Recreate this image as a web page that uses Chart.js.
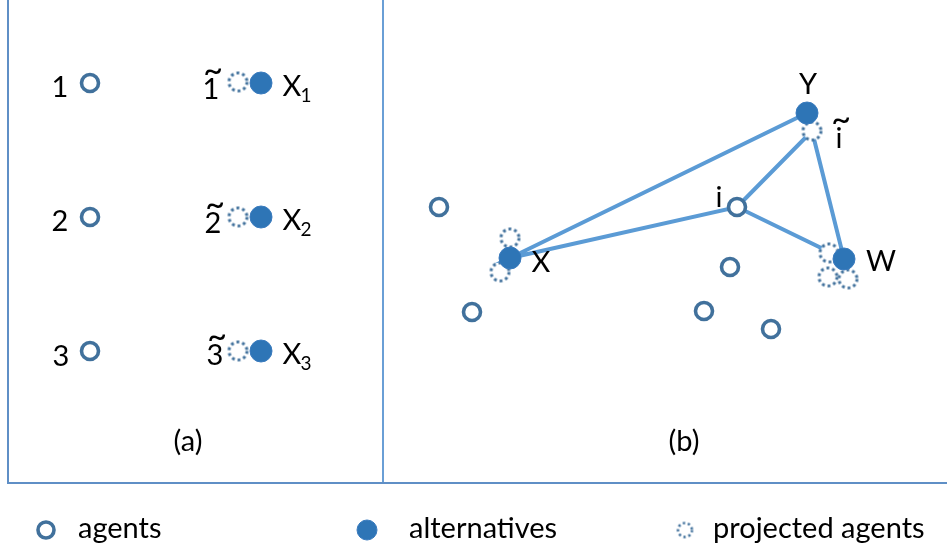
<!DOCTYPE html>
<html>
<head>
<meta charset="utf-8">
<script src="https://cdn.jsdelivr.net/npm/chart.js"></script>
<style>
  html, body { margin: 0; padding: 0; background: #fff; }
</style>
</head>
<body>
<canvas id="myChart" width="947" height="550"></canvas>
<script>
// diagram sheet units: 947 x 550, y grows downwards

// agents (hollow circles): panel (a) 1,2,3 then panel (b), last one is i
const agentX = [90, 90, 90, 439, 472, 730, 704, 771, 737];
const agentY = [83, 217, 351, 207, 312, 267, 311, 329, 207];

// alternatives (filled): X1, X2, X3, then X, Y, W
const altX = [261, 261, 261, 510, 807, 844];
const altY = [83, 217, 351, 258, 113, 259];

// projected agents (dotted)
const projX = [238, 238, 238, 510, 500, 812, 829, 828, 848];
const projY = [82, 217, 351, 238, 272, 131, 253, 277, 279];

// edges in (b): Y-X, X-i, i-W, W-ĩ, ĩ-i
const edgeX = [807, 510, 737, 844, 812, 737];
const edgeY = [113, 258, 207, 259, 131, 207];

// panel frame
const frameX = [8, 8, 947];
const frameY = [0, 483, 483];
const dividerX = [383, 383];
const dividerY = [0, 483];

// text labels
const labelText  = ['1', '2', '3', '1', '2', '3', 'X', 'X', 'X', '(a)', '(b)', 'Y', 'i', 'i', 'X', 'W'];
const labelSub   = ['', '', '', '', '', '', '1', '2', '3', '', '', '', '', '', '', ''];
const labelTilde = [0, 0, 0, 1, 1, 1, 0, 0, 0, 0, 0, 0, 1, 0, 0, 0];
const labelX = [60, 60, 61, 211, 213, 215, 292, 292, 292, 188, 684, 808, 839, 719, 541, 881];
const labelY = [87, 221, 356, 89, 223, 355, 86, 220, 354, 441, 441, 84, 138, 197, 262, 261];

// legend
const keyNames = ['agents', 'alternatives', 'projected agents'];
const keyX = [46, 367, 685];
const keyY = [530, 530, 530];
const keyTextX = [78, 409, 713];

const DARK = '#41719C';
const FILL = '#2E75B6';
const LINE = '#5B9BD5';
const FONT = 29;

function pts(xs, ys) {
    return xs.map((v, i) => ({x: v, y: ys[i]}));
}

function dottedCircle(r, lw, dash) {
    const c = document.createElement('canvas');
    const s = Math.ceil(2 * r + lw + 2);
    c.width = s; c.height = s;
    const g = c.getContext('2d');
    g.beginPath();
    g.arc(s / 2, s / 2, r, 0, Math.PI * 2);
    g.fillStyle = '#fff';
    g.fill();
    g.setLineDash(dash);
    g.lineWidth = lw;
    g.strokeStyle = DARK;
    g.stroke();
    return c;
}

const dotted = dottedCircle(9, 3, [2.8, 3]);
const dottedSmall = dottedCircle(7, 2.5, [2.3, 2.8]);

const textPlugin = {
    id: 'diagramText',
    afterDatasetsDraw(chart) {
        const ctx = chart.ctx;
        const sx = chart.scales.x, sy = chart.scales.y;
        ctx.save();
        ctx.fillStyle = '#000';
        ctx.textBaseline = 'alphabetic';
        ctx.textAlign = 'center';
        labelText.forEach((t, i) => {
            const px = sx.getPixelForValue(labelX[i]);
            const py = sy.getPixelForValue(labelY[i]);
            ctx.font = FONT + 'px Lato';
            ctx.fillText(t, px, py + FONT * 0.36);
            if (labelTilde[i]) {
                ctx.font = '34px Lato';
                ctx.fillText('~', px + 2, py - 19 + 34 * 0.34);
            }
            if (labelSub[i]) {
                ctx.font = '19px Lato';
                ctx.fillText(labelSub[i], px + 14, py + 9 + 19 * 0.36);
            }
        });
        // legend texts
        ctx.textAlign = 'left';
        ctx.font = FONT + 'px Lato';
        keyNames.forEach((t, i) => {
            ctx.fillText(t, sx.getPixelForValue(keyTextX[i]), sy.getPixelForValue(keyY[i]) + FONT * 0.26);
        });
        ctx.restore();
    }
};

var ctx = document.getElementById('myChart').getContext('2d');
var chart = new Chart(ctx, {
    type: 'scatter',
    data: {
        datasets: [{
            label: 'agents',
            data: pts(agentX, agentY),
            pointRadius: 8.5,
            pointBorderWidth: 3.6,
            borderColor: DARK,
            backgroundColor: '#fff',
            order: 1
        }, {
            label: 'alternatives',
            data: pts(altX, altY),
            pointRadius: 11,
            pointBorderWidth: 1,
            borderColor: '#3A7BBE',
            backgroundColor: FILL,
            order: 2
        }, {
            label: 'projected agents',
            data: pts(projX, projY),
            pointStyle: dotted,
            order: 3
        }, {
            label: 'edges',
            data: pts(edgeX, edgeY),
            showLine: true,
            pointRadius: 0,
            borderColor: LINE,
            borderWidth: 4,
            order: 10
        }, {
            label: 'frame',
            data: pts(frameX, frameY),
            showLine: true,
            pointRadius: 0,
            borderColor: '#5F8FC6',
            borderWidth: 2,
            order: 11
        }, {
            label: 'divider',
            data: pts(dividerX, dividerY),
            showLine: true,
            pointRadius: 0,
            borderColor: '#6A9FD6',
            borderWidth: 2,
            order: 11
        }, {
            label: 'key agents',
            data: [{x: keyX[0], y: keyY[0]}],
            pointRadius: 8,
            pointBorderWidth: 3.6,
            borderColor: DARK,
            backgroundColor: '#fff'
        }, {
            label: 'key alternatives',
            data: [{x: keyX[1], y: keyY[1]}],
            pointRadius: 10,
            pointBorderWidth: 1,
            borderColor: '#3A7BBE',
            backgroundColor: FILL
        }, {
            label: 'key projected',
            data: [{x: keyX[2], y: keyY[2]}],
            pointStyle: dottedSmall
        }]
    },
    options: {
        responsive: false,
        animation: false,
        clip: false,
        layout: { padding: 0, autoPadding: false },
        plugins: {
            legend: { display: false },
            tooltip: { enabled: false }
        },
        scales: {
            x: { type: 'linear', min: 0, max: 947, display: false },
            y: { type: 'linear', min: 0, max: 550, reverse: true, display: false }
        }
    },
    plugins: [textPlugin]
});
</script>
</body>
</html>
